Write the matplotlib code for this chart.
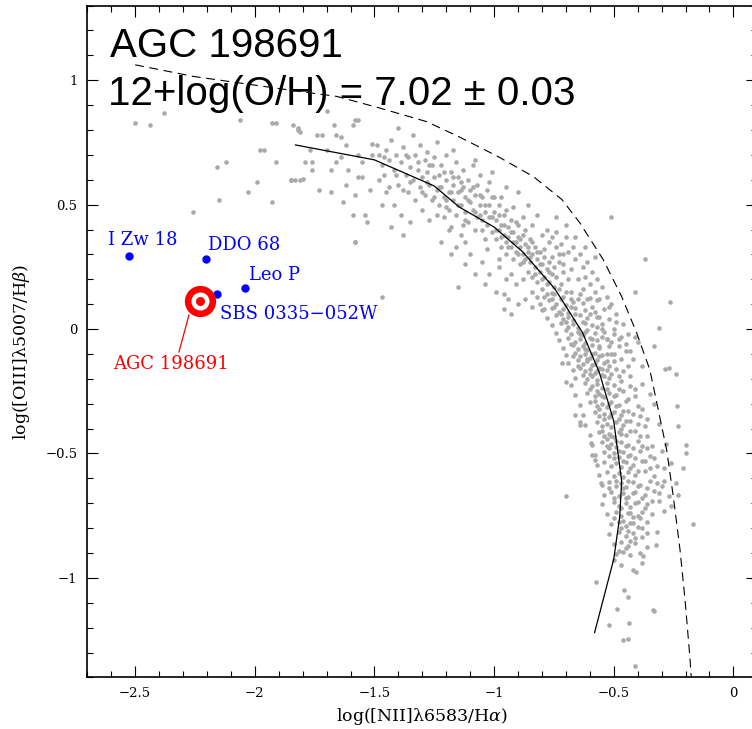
import numpy as np
import matplotlib
matplotlib.use("Agg")
import matplotlib.pyplot as plt
from matplotlib.ticker import MultipleLocator, FuncFormatter

# ---- grey comparison sample: (log NII/Ha, log OIII/Hb) ----
grey_sparse = [
    (-2.50, 0.83), (-2.44, 0.82), (-2.38, 0.87), (-2.06, 0.84), (-1.93, 0.83), (-1.91, 0.83),
    (-1.98, 0.72), (-1.96, 0.72), (-2.16, 0.65), (-2.12, 0.67), (-1.99, 0.59), (-2.03, 0.55),
    (-2.15, 0.52), (-1.93, 0.51), (-2.26, 0.47), (-1.91, 0.67), (-1.85, 0.60), (-1.81, 0.60),
    (-1.84, 0.82), (-1.82, 0.80), (-1.58, 0.84), (-1.70, 0.875), (-1.58, 0.35), (-1.47, 0.13),
    (-1.15, 0.17), (-0.93, 0.06), (-0.98, 0.28), (-0.70, -0.67), (-0.51, 0.45), (-0.37, 0.28),
    (-0.41, 0.15), (-0.265, 0.11), (-0.31, 0.006), (-0.33, -0.07), (-0.27, -0.155), (-0.285, -0.16),
    (-0.24, -0.18), (-0.237, -0.31), (-0.23, -0.39), (-0.20, -0.465), (-0.198, -0.50), (-0.212, -0.56),
    (-0.23, -0.666), (-0.17, -0.784), (-0.324, -0.867), (-0.335, -1.128), (-0.33, -1.135),
    (-0.575, -1.018), (-0.487, -1.125), (-0.52, -1.19), (-0.435, -1.18), (-0.46, -1.249),
    (-0.44, -1.245), (-0.41, -1.356), (-0.457, -1.05), (-0.44, -1.077), (-0.407, -0.978),
    (-0.379, -0.914), (-0.662, -0.344), (-0.643, -0.373), (-0.64, -0.385), (-0.718, -0.137),
    (-0.70, -0.212), (-0.595, -0.457), (-0.578, -0.525), (-0.554, -0.619), (-0.592, -0.505),
]

grey_upper = [
    (-1.82, 0.81), (-1.81, 0.79), (-1.74, 0.78), (-1.72, 0.78), (-1.67, 0.82), (-1.59, 0.82),
    (-1.57, 0.84), (-1.66, 0.78), (-1.64, 0.77), (-1.79, 0.67), (-1.76, 0.67), (-1.76, 0.64),
    (-1.66, 0.67), (-1.68, 0.64), (-1.61, 0.64), (-1.85, 0.60), (-1.83, 0.60), (-1.80, 0.605),
    (-1.73, 0.56), (-1.68, 0.55), (-1.63, 0.51), (-1.62, 0.58), (-1.58, 0.54), (-1.59, 0.46),
    (-1.54, 0.46), (-1.53, 0.43), (-1.52, 0.56), (-1.57, 0.61), (-1.55, 0.61), (-1.55, 0.67),
    (-1.57, 0.70), (-1.51, 0.70), (-1.58, 0.35), (-1.51, 0.745), (-1.70, 0.72), (-1.62, 0.74),
    (-1.77, 0.72), (-1.64, 0.69),
    (-1.49, 0.74), (-1.48, 0.70), (-1.47, 0.66), (-1.46, 0.62), (-1.45, 0.72), (-1.45, 0.55),
    (-1.44, 0.68), (-1.43, 0.76), (-1.42, 0.64), (-1.42, 0.50), (-1.41, 0.70), (-1.40, 0.58),
    (-1.39, 0.67), (-1.39, 0.46), (-1.38, 0.73), (-1.37, 0.62), (-1.36, 0.55), (-1.36, 0.69),
    (-1.35, 0.65), (-1.34, 0.78), (-1.34, 0.60), (-1.33, 0.52), (-1.33, 0.70), (-1.32, 0.64),
    (-1.31, 0.57), (-1.31, 0.74), (-1.30, 0.61), (-1.30, 0.48), (-1.29, 0.68), (-1.29, 0.54),
    (-1.28, 0.63), (-1.28, 0.71), (-1.27, 0.58), (-1.27, 0.44), (-1.26, 0.66), (-1.26, 0.52),
    (-1.25, 0.61), (-1.25, 0.69), (-1.24, 0.56), (-1.24, 0.75), (-1.43, 0.41), (-1.38, 0.38),
    (-1.47, 0.50), (-1.35, 0.43), (-1.40, 0.81),
]

grey_mid = [
    (-1.23, 0.62), (-1.23, 0.50), (-1.22, 0.57), (-1.22, 0.66), (-1.21, 0.53), (-1.21, 0.45),
    (-1.20, 0.60), (-1.20, 0.70), (-1.19, 0.55), (-1.19, 0.48), (-1.18, 0.63), (-1.18, 0.41),
    (-1.17, 0.58), (-1.17, 0.52), (-1.16, 0.67), (-1.16, 0.46), (-1.15, 0.55), (-1.15, 0.61),
    (-1.14, 0.50), (-1.14, 0.38), (-1.13, 0.57), (-1.13, 0.64), (-1.12, 0.47), (-1.12, 0.53),
    (-1.11, 0.60), (-1.11, 0.43), (-1.10, 0.51), (-1.10, 0.56), (-1.09, 0.48), (-1.09, 0.66),
    (-1.08, 0.54), (-1.08, 0.40), (-1.07, 0.45), (-1.07, 0.58), (-1.06, 0.50), (-1.06, 0.62),
    (-1.05, 0.44), (-1.05, 0.53), (-1.04, 0.47), (-1.04, 0.36), (-1.03, 0.56), (-1.03, 0.42),
    (-1.02, 0.50), (-1.02, 0.59), (-1.01, 0.45), (-1.01, 0.39), (-1.00, 0.53), (-1.00, 0.47),
    (-1.22, 0.35), (-1.16, 0.33), (-1.10, 0.30), (-1.05, 0.27), (-1.19, 0.40), (-1.13, 0.42),
    (-1.24, 0.46), (-1.17, 0.72), (-1.08, 0.68), (-1.12, 0.35), (-1.03, 0.32), (-1.20, 0.52),
    (-1.14, 0.56), (-1.06, 0.46), (-1.01, 0.63),
    (-0.99, 0.44), (-0.99, 0.36), (-0.98, 0.40), (-0.98, 0.50), (-0.97, 0.33), (-0.97, 0.42),
    (-0.96, 0.38), (-0.96, 0.46), (-0.95, 0.35), (-0.95, 0.30), (-0.94, 0.41), (-0.94, 0.37),
    (-0.93, 0.33), (-0.93, 0.44), (-0.92, 0.39), (-0.92, 0.28), (-0.91, 0.35), (-0.91, 0.31),
    (-0.90, 0.42), (-0.90, 0.37), (-0.89, 0.33), (-0.89, 0.26), (-0.88, 0.30), (-0.88, 0.38),
    (-0.87, 0.34), (-0.87, 0.28), (-0.86, 0.31), (-0.86, 0.23), (-0.85, 0.36), (-0.85, 0.27),
    (-0.84, 0.30), (-0.84, 0.21), (-0.83, 0.25), (-0.83, 0.33), (-0.82, 0.28), (-0.82, 0.19),
    (-0.81, 0.23), (-0.81, 0.31), (-0.80, 0.26), (-0.80, 0.16), (-0.79, 0.21), (-0.79, 0.29),
    (-0.78, 0.24), (-0.78, 0.14), (-0.77, 0.19), (-0.77, 0.27), (-0.76, 0.22), (-0.76, 0.12),
    (-0.75, 0.17), (-0.75, 0.25),
    (-0.97, 0.53), (-0.92, 0.49), (-0.88, 0.45), (-0.84, 0.42), (-0.80, 0.38), (-0.77, 0.35),
    (-0.74, 0.33), (-0.71, 0.30), (-0.86, 0.50), (-0.90, 0.55), (-0.82, 0.46), (-0.95, 0.57),
    (-0.98, 0.25), (-0.95, 0.20), (-0.91, 0.18), (-0.87, 0.12), (-0.84, 0.09), (-0.93, 0.22),
    (-0.88, 0.20), (-0.82, 0.13), (-0.79, 0.08), (-1.02, 0.22), (-0.96, 0.14), (-0.90, 0.10),
]

grey_knee = [
    (-0.84, 0.15), (-0.79, 0.13), (-0.76, 0.145), (-0.73, 0.16), (-0.71, 0.13), (-0.68, 0.15),
    (-0.64, 0.14), (-0.60, 0.125), (-0.81, 0.10), (-0.77, 0.115), (-0.74, 0.10), (-0.72, 0.12),
    (-0.70, 0.095), (-0.67, 0.11), (-0.63, 0.105), (-0.57, 0.115), (-0.80, 0.075), (-0.76, 0.085),
    (-0.73, 0.07), (-0.71, 0.08), (-0.69, 0.065), (-0.66, 0.085), (-0.62, 0.075), (-0.58, 0.07),
    (-0.52, 0.09), (-0.78, 0.045), (-0.74, 0.055), (-0.71, 0.04), (-0.69, 0.05), (-0.67, 0.035),
    (-0.64, 0.055), (-0.61, 0.045), (-0.56, 0.05), (-0.76, 0.015), (-0.72, 0.025), (-0.69, 0.01),
    (-0.67, 0.02), (-0.65, 0.005), (-0.62, 0.025), (-0.59, 0.015), (-0.55, 0.02), (-0.49, 0.03),
    (-0.74, -0.015), (-0.70, -0.005), (-0.68, -0.02), (-0.65, -0.01), (-0.63, -0.025), (-0.61, -0.005),
    (-0.58, -0.015), (-0.54, -0.01), (-0.73, -0.045), (-0.69, -0.035), (-0.66, -0.05), (-0.64, -0.04),
    (-0.62, -0.055), (-0.60, -0.035), (-0.57, -0.045), (-0.53, -0.04), (-0.47, -0.03), (-0.71, -0.075),
    (-0.67, -0.065), (-0.65, -0.08), (-0.63, -0.07), (-0.61, -0.085), (-0.59, -0.065), (-0.56, -0.075),
    (-0.52, -0.07), (-0.70, -0.105), (-0.66, -0.095), (-0.64, -0.11), (-0.62, -0.10), (-0.60, -0.115),
    (-0.58, -0.095), (-0.55, -0.105), (-0.51, -0.10), (-0.45, -0.09), (-0.69, -0.135), (-0.65, -0.125),
    (-0.63, -0.14), (-0.61, -0.13), (-0.59, -0.145), (-0.57, -0.125), (-0.54, -0.135), (-0.50, -0.13),
    (-0.67, -0.165), (-0.64, -0.155), (-0.62, -0.17), (-0.60, -0.16), (-0.58, -0.175), (-0.56, -0.155),
    (-0.53, -0.165), (-0.49, -0.16), (-0.44, -0.15), (-0.66, -0.195), (-0.63, -0.185), (-0.61, -0.20),
    (-0.59, -0.19), (-0.57, -0.205), (-0.55, -0.185), (-0.52, -0.195), (-0.48, -0.19),
]

grey_lower = [
    (-0.68, -0.225), (-0.62, -0.215), (-0.59, -0.23), (-0.57, -0.22), (-0.55, -0.235), (-0.53, -0.215),
    (-0.50, -0.225), (-0.47, -0.21), (-0.43, -0.23), (-0.38, -0.22), (-0.66, -0.265), (-0.61, -0.255),
    (-0.58, -0.27), (-0.56, -0.26), (-0.54, -0.275), (-0.52, -0.255), (-0.49, -0.265), (-0.46, -0.25),
    (-0.41, -0.27), (-0.35, -0.26), (-0.64, -0.305), (-0.60, -0.295), (-0.57, -0.31), (-0.55, -0.30),
    (-0.53, -0.315), (-0.51, -0.295), (-0.48, -0.305), (-0.45, -0.29), (-0.40, -0.31), (-0.33, -0.30),
    (-0.63, -0.345), (-0.58, -0.335), (-0.56, -0.35), (-0.54, -0.34), (-0.52, -0.355), (-0.50, -0.335),
    (-0.47, -0.345), (-0.44, -0.33), (-0.39, -0.35), (-0.62, -0.385), (-0.57, -0.375), (-0.55, -0.39),
    (-0.53, -0.38), (-0.51, -0.395), (-0.49, -0.375), (-0.46, -0.385), (-0.43, -0.37), (-0.37, -0.39),
    (-0.31, -0.38), (-0.60, -0.425), (-0.56, -0.415), (-0.54, -0.43), (-0.52, -0.42), (-0.50, -0.435),
    (-0.48, -0.415), (-0.45, -0.425), (-0.41, -0.41), (-0.36, -0.43), (-0.59, -0.465), (-0.55, -0.455),
    (-0.53, -0.47), (-0.51, -0.46), (-0.49, -0.475), (-0.47, -0.455), (-0.44, -0.465), (-0.40, -0.45),
    (-0.34, -0.47), (-0.28, -0.46), (-0.58, -0.505), (-0.54, -0.495), (-0.52, -0.51), (-0.50, -0.50),
    (-0.48, -0.515), (-0.46, -0.495), (-0.43, -0.505), (-0.39, -0.49), (-0.35, -0.51), (-0.57, -0.545),
    (-0.54, -0.535), (-0.51, -0.55), (-0.49, -0.54), (-0.47, -0.555), (-0.45, -0.535), (-0.42, -0.545),
    (-0.38, -0.53), (-0.32, -0.55), (-0.26, -0.54), (-0.56, -0.585), (-0.53, -0.575), (-0.50, -0.59),
    (-0.48, -0.58), (-0.46, -0.595), (-0.44, -0.575), (-0.41, -0.585), (-0.37, -0.57), (-0.33, -0.59),
]

grey_tail = [
    (-0.55, -0.625), (-0.52, -0.615), (-0.49, -0.63), (-0.47, -0.62), (-0.45, -0.635), (-0.42, -0.615),
    (-0.39, -0.625), (-0.35, -0.61), (-0.30, -0.63), (-0.24, -0.62), (-0.54, -0.665), (-0.51, -0.655),
    (-0.48, -0.67), (-0.46, -0.66), (-0.44, -0.675), (-0.41, -0.655), (-0.37, -0.665), (-0.33, -0.65),
    (-0.27, -0.67), (-0.55, -0.705), (-0.50, -0.695), (-0.48, -0.71), (-0.45, -0.70), (-0.43, -0.715),
    (-0.40, -0.695), (-0.36, -0.705), (-0.31, -0.69), (-0.26, -0.71), (-0.53, -0.745), (-0.49, -0.735),
    (-0.47, -0.75), (-0.44, -0.74), (-0.42, -0.755), (-0.38, -0.735), (-0.34, -0.745), (-0.29, -0.73),
    (-0.51, -0.785), (-0.48, -0.775), (-0.45, -0.79), (-0.43, -0.78), (-0.40, -0.795), (-0.36, -0.775),
    (-0.52, -0.825), (-0.48, -0.815), (-0.45, -0.83), (-0.42, -0.82), (-0.38, -0.835), (-0.32, -0.815),
    (-0.50, -0.865), (-0.47, -0.855), (-0.44, -0.87), (-0.41, -0.86), (-0.36, -0.875), (-0.49, -0.905),
    (-0.46, -0.895), (-0.43, -0.91), (-0.39, -0.90), (-0.47, -0.95), (-0.42, -0.97), (-0.50, -0.93),
    (-0.38, -0.94),
]

grey_extra = [
    (-1.48, 0.60), (-1.46, 0.69), (-1.44, 0.57), (-1.41, 0.62), (-1.38, 0.56), (-1.37, 0.70),
    (-1.35, 0.59), (-1.32, 0.67), (-1.30, 0.55), (-1.28, 0.59), (-1.27, 0.66), (-1.25, 0.53),
    (-1.23, 0.57), (-1.21, 0.63), (-1.20, 0.49), (-1.18, 0.55), (-1.17, 0.61), (-1.15, 0.50),
    (-1.14, 0.59), (-1.12, 0.44), (-1.11, 0.52), (-1.09, 0.57), (-1.08, 0.47), (-1.06, 0.54),
    (-1.05, 0.40), (-1.04, 0.50), (-1.02, 0.45), (-1.01, 0.53), (-0.99, 0.40), (-0.98, 0.46),
    (-0.97, 0.37), (-0.96, 0.42), (-0.95, 0.48), (-0.94, 0.33), (-0.93, 0.39), (-0.92, 0.35),
    (-0.91, 0.43), (-0.90, 0.30), (-0.89, 0.36), (-0.88, 0.27), (-0.87, 0.40), (-0.86, 0.33),
    (-0.85, 0.29), (-0.84, 0.35), (-0.83, 0.22), (-0.82, 0.31), (-0.81, 0.26), (-0.80, 0.20),
    (-0.79, 0.32), (-0.78, 0.18), (-0.77, 0.23), (-0.76, 0.29), (-0.75, 0.14), (-0.74, 0.21),
    (-0.73, 0.27), (-0.72, 0.18), (-0.71, 0.23), (-0.70, 0.15), (-0.69, 0.20), (-0.68, 0.12),
    (-0.75, 0.09), (-0.72, 0.06), (-0.70, 0.03), (-0.68, 0.09), (-0.66, 0.06), (-0.65, 0.12),
    (-0.63, 0.03), (-0.62, -0.01), (-0.60, 0.06), (-0.59, -0.04), (-0.57, 0.01), (-0.56, -0.07),
    (-0.55, -0.03), (-0.53, -0.10), (-0.51, -0.05), (-0.50, -0.02), (-0.48, -0.07), (-0.47, -0.12),
    (-0.68, -0.06), (-0.67, -0.11), (-0.65, -0.15), (-0.64, -0.02), (-0.62, -0.08), (-0.61, -0.12),
    (-0.60, -0.18), (-0.59, -0.10), (-0.58, -0.14), (-0.57, -0.17), (-0.56, -0.11), (-0.55, -0.16),
    (-0.54, -0.19), (-0.53, -0.13), (-0.52, -0.15), (-0.51, -0.18), (-0.50, -0.10), (-0.46, -0.17),
    (-0.42, -0.12), (-0.40, -0.05), (-0.43, -0.19), (-0.38, -0.15),
    (-0.60, -0.24), (-0.58, -0.29), (-0.57, -0.25), (-0.56, -0.32), (-0.55, -0.27), (-0.54, -0.36),
    (-0.53, -0.24), (-0.52, -0.30), (-0.51, -0.34), (-0.50, -0.27), (-0.49, -0.31), (-0.48, -0.36),
    (-0.48, -0.24), (-0.47, -0.40), (-0.46, -0.33), (-0.45, -0.37), (-0.44, -0.28), (-0.43, -0.41),
    (-0.42, -0.34), (-0.41, -0.24), (-0.40, -0.38), (-0.39, -0.43), (-0.38, -0.32), (-0.36, -0.36),
    (-0.55, -0.41), (-0.53, -0.44), (-0.52, -0.48), (-0.51, -0.43), (-0.50, -0.52), (-0.49, -0.45),
    (-0.48, -0.49), (-0.47, -0.42), (-0.46, -0.53), (-0.45, -0.47), (-0.44, -0.51), (-0.43, -0.56),
    (-0.42, -0.48), (-0.41, -0.52), (-0.40, -0.57), (-0.38, -0.47), (-0.37, -0.53), (-0.36, -0.48),
    (-0.35, -0.56), (-0.33, -0.52), (-0.30, -0.49), (-0.29, -0.56),
    (-0.52, -0.64), (-0.50, -0.68), (-0.49, -0.61), (-0.47, -0.72), (-0.46, -0.64), (-0.45, -0.68),
    (-0.44, -0.61), (-0.43, -0.74), (-0.42, -0.66), (-0.41, -0.70), (-0.40, -0.63), (-0.39, -0.76),
    (-0.38, -0.68), (-0.37, -0.72), (-0.36, -0.64), (-0.34, -0.69), (-0.32, -0.62), (-0.31, -0.66),
    (-0.29, -0.61), (-0.50, -0.76), (-0.47, -0.80), (-0.46, -0.77), (-0.44, -0.81), (-0.42, -0.78),
    (-0.41, -0.84), (-0.40, -0.75), (-0.38, -0.80), (-0.36, -0.82), (-0.45, -0.88), (-0.43, -0.85),
    (-0.48, -0.89),
]

grey_outer_band = [
    (-0.78, 0.40), (-0.76, 0.37), (-0.74, 0.39), (-0.72, 0.34), (-0.70, 0.37), (-0.69, 0.31),
    (-0.67, 0.33), (-0.66, 0.28), (-0.64, 0.30), (-0.63, 0.25), (-0.62, 0.21), (-0.61, 0.27),
    (-0.60, 0.18), (-0.59, 0.23), (-0.58, 0.15), (-0.57, 0.20), (-0.56, 0.12), (-0.55, 0.17),
    (-0.54, 0.08), (-0.53, 0.13), (-0.52, 0.04), (-0.51, 0.10), (-0.50, 0.00), (-0.49, 0.06),
    (-0.48, -0.04), (-0.46, 0.02), (-0.45, -0.06), (-0.44, -0.02), (-0.43, -0.09), (-0.41, -0.03),
    (-0.68, 0.24), (-0.65, 0.20), (-0.63, 0.16), (-0.61, 0.12), (-0.59, 0.09), (-0.57, 0.05),
    (-0.55, 0.00), (-0.53, -0.04), (-0.71, 0.26), (-0.73, 0.30), (-0.66, 0.37), (-0.62, 0.33),
    (-0.58, 0.29), (-0.70, 0.42), (-0.74, 0.45),
    (-1.12, 0.26), (-1.08, 0.22), (-1.04, 0.18), (-0.99, 0.15), (-0.96, 0.08), (-1.18, 0.30),
    (-0.94, 0.12),
]

# ---- curves ----
ridge_x = [-1.83, -1.50, -1.25, -1.145, -1.00, -0.88, -0.745, -0.63, -0.56, -0.50, -0.467, -0.475, -0.50, -0.58]
ridge_y = [0.74, 0.68, 0.575, 0.49, 0.41, 0.31, 0.16, -0.015, -0.175, -0.37, -0.61, -0.755, -0.925, -1.22]

limit_x = [-2.50, -2.254, -1.865, -1.657, -1.477, -1.283, -1.149, -0.985, -0.836, -0.716, -0.641,
           -0.544, -0.467, -0.404, -0.349, -0.314, -0.279, -0.251, -0.223, -0.202, -0.182, -0.176]
limit_y = [1.062, 1.015, 0.962, 0.935, 0.888, 0.834, 0.774, 0.694, 0.613, 0.520, 0.426,
           0.279, 0.131, -0.016, -0.164, -0.324, -0.485, -0.673, -0.887, -1.088, -1.316, -1.40]

# ---- highlighted galaxies ----
ref_names = ["I Zw 18", "DDO 68", "Leo P", "SBS 0335\u2212052W"]
ref_nii = [-2.527, -2.205, -2.04, -2.157]
ref_oiii = [0.294, 0.281, 0.165, 0.141]

agc_name = "AGC 198691"
agc_nii = -2.227
agc_oiii = 0.111

grey = np.array(grey_sparse + grey_upper + grey_mid + grey_knee + grey_lower + grey_tail
                + grey_extra + grey_outer_band)

plt.rcParams["mathtext.fontset"] = "dejavuserif"
serif = "DejaVu Serif"

fig = plt.figure(figsize=(7.52, 7.29), dpi=100)
ax = fig.add_axes([87.3 / 752, 51.6 / 729, 670 / 752, 671.8 / 729])

ax.scatter(grey[:, 0], grey[:, 1], s=11, c="#aaaaaa", linewidths=0, zorder=1)
ax.plot(ridge_x, ridge_y, color="k", lw=0.9, zorder=2)
ax.plot(limit_x, limit_y, color="k", lw=0.8, ls=(0, (8, 5)), zorder=2)

ax.plot(ref_nii, ref_oiii, "o", color="blue", ms=6, mec="none", zorder=3)
ax.plot([agc_nii], [agc_oiii], "o", color="red", ms=22.5, mec="none", zorder=4)
ax.plot([agc_nii], [agc_oiii], "o", color="white", ms=13, mec="none", zorder=5)
ax.plot([agc_nii], [agc_oiii], "o", color="red", ms=6.5, mec="none", zorder=6)

label_pos = {
    "I Zw 18": (-2.613, 0.339),
    "DDO 68": (-2.195, 0.319),
    "Leo P": (-2.023, 0.198),
    "SBS 0335\u2212052W": (-2.145, 0.041),
}
for name in ref_names:
    lx, ly = label_pos[name]
    ax.text(lx, ly, name, color="blue", fontsize=13, family=serif, va="baseline", ha="left")

ax.annotate(agc_name, xy=(-2.275, 0.057), xytext=(-2.591, -0.160), color="red",
            fontsize=13, family=serif, va="baseline", ha="left",
            arrowprops=dict(arrowstyle="-", color="red", lw=0.9, shrinkA=0, shrinkB=0,
                            relpos=(0.56, 1.0)))

ax.set_xlim(-2.7, 0.1)
ax.set_ylim(-1.4, 1.3)

fmt = FuncFormatter(lambda v, p: f"{v:g}".replace("-", "\u2212"))
ax.xaxis.set_major_locator(MultipleLocator(0.5))
ax.xaxis.set_minor_locator(MultipleLocator(0.1))
ax.yaxis.set_major_locator(MultipleLocator(0.5))
ax.yaxis.set_minor_locator(MultipleLocator(0.1))
ax.xaxis.set_major_formatter(fmt)
ax.yaxis.set_major_formatter(fmt)
ax.tick_params(which="both", direction="in", top=True, right=True, width=0.8, color="k")
ax.tick_params(which="major", length=8)
ax.tick_params(which="minor", length=4)
ax.tick_params(axis="x", pad=7)
ax.tick_params(axis="y", pad=7)
for lab in ax.get_xticklabels() + ax.get_yticklabels():
    lab.set_family(serif)
    lab.set_fontsize(9.5)
for sp in ax.spines.values():
    sp.set_linewidth(1.2)

ax.set_xlabel("log([NII]\u03bb6583/H$\\alpha$)", family=serif, fontsize=12.5)
ax.set_ylabel("log([OIII]\u03bb5007/H$\\beta$)", family=serif, fontsize=12.5)
ax.xaxis.set_label_coords(0.5, -0.042)
ax.yaxis.set_label_coords(-0.0825, 0.484)

fig.text(110 / 752, 1 - 56.7 / 729, "AGC 198691", family="Liberation Sans", fontsize=29,
         va="baseline", ha="left")
fig.text(108 / 752, 1 - 104.6 / 729, "12+log(O/H) = 7.02 \u00b1 0.03", family="Liberation Sans",
         fontsize=29, va="baseline", ha="left")

fig.savefig("out.png", dpi=100)
